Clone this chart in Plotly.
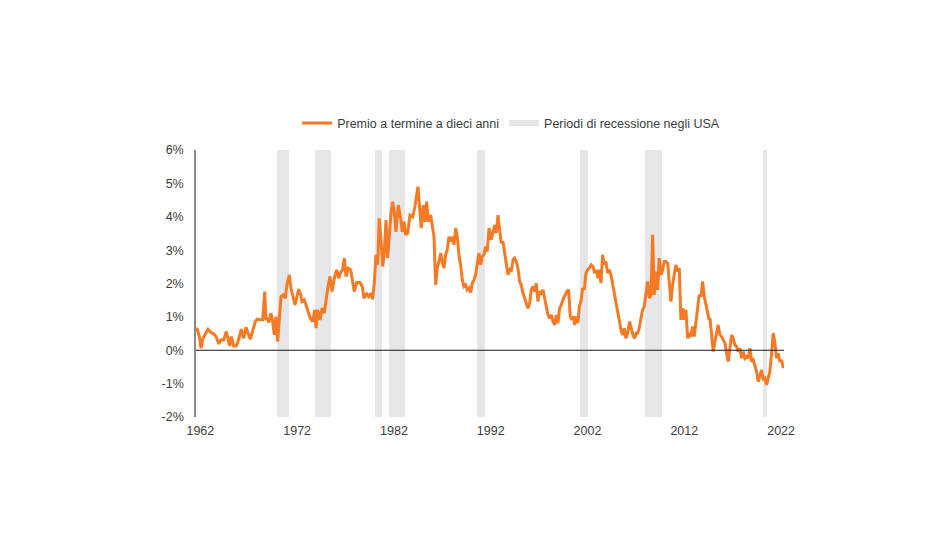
import plotly.graph_objects as go

# Ten-year term premium (%)
years = [
    1961.55, 1961.65, 1961.89, 1962.07, 1962.27, 1962.45, 1962.79, 1963.10, 1963.38, 1963.62,
    1963.90, 1964.10, 1964.41, 1964.68, 1964.86, 1965.03, 1965.20, 1965.44, 1965.71, 1965.96,
    1966.23, 1966.48, 1966.72, 1966.92, 1967.16, 1967.41, 1967.68, 1967.88, 1968.19, 1968.44,
    1968.65, 1968.78, 1968.99, 1969.06, 1969.30, 1969.47, 1969.64, 1969.81, 1969.99, 1970.15,
    1970.33, 1970.57, 1970.77, 1970.95, 1971.19, 1971.36, 1971.54, 1971.78, 1971.98, 1972.16,
    1972.37, 1972.50, 1972.74, 1972.99, 1973.19, 1973.36, 1973.61, 1973.81, 1973.95, 1974.12,
    1974.36, 1974.57, 1974.80, 1974.98, 1975.19, 1975.39, 1975.60, 1975.84, 1976.08, 1976.29,
    1976.53, 1976.70, 1976.87, 1977.05, 1977.28, 1977.53, 1977.74, 1977.90, 1978.15, 1978.49,
    1978.73, 1978.90, 1979.18, 1979.39, 1979.60, 1979.80, 1979.97, 1980.14, 1980.32, 1980.48,
    1980.66, 1980.84, 1981.00, 1981.18, 1981.35, 1981.52, 1981.69, 1981.87, 1982.03, 1982.21,
    1982.45, 1982.70, 1982.86, 1983.04, 1983.21, 1983.42, 1983.66, 1983.94, 1984.17, 1984.48,
    1984.66, 1984.82, 1985.03, 1985.21, 1985.38, 1985.55, 1985.79, 1985.96, 1986.14, 1986.31,
    1986.48, 1986.65, 1986.83, 1986.99, 1987.17, 1987.34, 1987.51, 1987.68, 1987.86, 1988.03,
    1988.20, 1988.38, 1988.54, 1988.72, 1988.89, 1989.06, 1989.23, 1989.41, 1989.58, 1989.75,
    1989.93, 1990.09, 1990.27, 1990.44, 1990.61, 1990.78, 1990.96, 1991.12, 1991.30, 1991.48,
    1991.64, 1991.82, 1992.05, 1992.23, 1992.41, 1992.57, 1992.75, 1992.92, 1993.09, 1993.26,
    1993.44, 1993.60, 1993.78, 1993.96, 1994.12, 1994.30, 1994.47, 1994.64, 1994.81, 1994.99,
    1995.15, 1995.33, 1995.50, 1995.67, 1995.85, 1996.02, 1996.19, 1996.36, 1996.54, 1996.70,
    1996.88, 1997.05, 1997.22, 1997.40, 1997.57, 1997.74, 1997.91, 1998.09, 1998.25, 1998.43,
    1998.60, 1998.77, 1998.94, 1999.12, 1999.29, 1999.53, 1999.70, 1999.87, 2000.05, 2000.22,
    2000.39, 2000.57, 2000.67, 2000.84, 2001.01, 2001.15, 2001.32, 2001.50, 2001.66, 2001.84,
    2002.01, 2002.18, 2002.38, 2002.56, 2002.74, 2002.90, 2003.08, 2003.21, 2003.39, 2003.56,
    2003.73, 2003.90, 2004.08, 2004.24, 2004.42, 2004.59, 2004.76, 2004.94, 2005.11, 2005.28,
    2005.45, 2005.63, 2005.79, 2005.97, 2006.14, 2006.35, 2006.52, 2006.69, 2006.87, 2007.03,
    2007.18, 2007.34, 2007.52, 2007.69, 2007.86, 2008.04, 2008.21, 2008.38, 2008.55, 2008.73,
    2008.89, 2009.07, 2009.24, 2009.41, 2009.58, 2009.76, 2009.93, 2010.10, 2010.28, 2010.44,
    2010.62, 2010.79, 2010.96, 2011.13, 2011.31, 2011.48, 2011.65, 2011.83, 2011.99, 2012.17,
    2012.34, 2012.51, 2012.68, 2012.86, 2013.02, 2013.20, 2013.38, 2013.54, 2013.72, 2013.89,
    2014.06, 2014.23, 2014.41, 2014.57, 2014.65, 2014.82, 2014.99, 2015.16, 2015.34, 2015.50,
    2015.68, 2015.85, 2016.02, 2016.20, 2016.37, 2016.54, 2016.71, 2016.89, 2017.05, 2017.23,
    2017.40, 2017.57, 2017.75, 2017.92, 2018.09, 2018.26, 2018.44, 2018.60, 2018.78, 2018.95,
    2019.12, 2019.29, 2019.47, 2019.64, 2019.81, 2019.99, 2020.15, 2020.33, 2020.50, 2020.67,
    2020.84, 2021.02, 2021.19, 2021.36, 2021.54, 2021.70, 2021.88, 2022.05, 2022.22,
]
term_premium = [
    0.60, 0.66, 0.41, 0.06, 0.36, 0.46, 0.63, 0.53, 0.49, 0.41,
    0.19, 0.31, 0.31, 0.56, 0.31, 0.13, 0.41, 0.13, 0.13, 0.33,
    0.63, 0.36, 0.69, 0.51, 0.33, 0.59, 0.86, 0.93, 0.93, 0.91,
    1.76, 0.91, 0.96, 0.83, 1.11, 0.86, 0.46, 1.01, 0.26, 1.06,
    1.61, 1.66, 1.56, 1.96, 2.26, 1.86, 1.66, 1.36, 1.61, 1.83,
    1.66, 1.46, 1.51, 1.31, 1.11, 0.96, 0.86, 1.21, 0.66, 1.21,
    0.91, 1.26, 1.11, 1.51, 1.91, 2.21, 1.76, 2.16, 2.41, 2.16,
    2.36, 2.41, 2.76, 2.21, 2.46, 2.41, 2.01, 1.76, 2.03, 2.03,
    1.91, 1.56, 1.69, 1.61, 1.71, 1.53, 2.01, 2.86, 2.56, 3.95,
    3.31, 2.51, 2.91, 3.90, 2.76, 3.51, 4.10, 4.45, 4.15, 3.55,
    4.35, 3.95, 3.55, 3.85, 3.46, 3.51, 4.05, 4.00, 4.30, 4.90,
    4.30, 3.66, 4.35, 3.85, 4.45, 3.85, 4.05, 3.66, 3.40, 1.96,
    2.46, 2.66, 2.91, 2.66, 2.46, 2.86, 3.01, 3.40, 3.26, 3.40,
    3.16, 3.66, 3.40, 2.86, 2.56, 2.11, 1.91, 1.96, 1.81, 1.86,
    1.73, 2.01, 2.11, 2.26, 2.61, 2.91, 2.56, 2.81, 2.86, 3.11,
    2.96, 3.66, 3.31, 3.55, 3.75, 3.51, 4.05, 3.60, 3.21, 3.26,
    2.86, 2.56, 2.26, 2.41, 2.36, 2.71, 2.76, 2.66, 2.46, 2.06,
    1.96, 1.71, 1.56, 1.41, 1.26, 1.41, 1.81, 1.91, 1.76, 2.01,
    1.46, 1.76, 1.71, 1.81, 1.56, 1.36, 1.06, 0.96, 1.06, 0.86,
    0.76, 1.06, 0.81, 1.26, 1.36, 1.56, 1.66, 1.76, 1.81, 1.01,
    0.91, 1.01, 0.76, 1.01, 0.81, 1.31, 1.46, 1.86, 1.81, 2.31,
    2.41, 2.46, 2.56, 2.51, 2.31, 2.41, 2.16, 2.41, 2.01, 2.86,
    2.56, 2.66, 2.31, 2.41, 2.26, 1.96, 1.66, 1.41, 1.16, 0.91,
    0.61, 0.46, 0.66, 0.36, 0.51, 0.86, 0.66, 0.46, 0.36, 0.51,
    0.51, 0.66, 0.96, 1.21, 1.31, 1.76, 2.06, 1.56, 1.66, 3.46,
    1.66, 2.36, 1.81, 2.76, 2.26, 2.41, 2.66, 2.66, 2.61, 2.06,
    1.46, 1.96, 2.26, 2.56, 2.36, 2.46, 0.91, 1.26, 0.91, 1.21,
    0.36, 0.46, 0.41, 0.71, 0.41, 0.91, 1.26, 1.66, 1.61, 2.06,
    1.61, 1.36, 1.11, 0.91, 0.96, 0.51, -0.04, 0.26, 0.51, 0.76,
    0.46, 0.41, 0.31, 0.21, -0.09, -0.34, 0.06, 0.46, 0.36, 0.16,
    0.11, -0.04, 0.06, -0.24, -0.04, -0.24, -0.19, -0.24, 0.06, -0.34,
    -0.29, -0.49, -0.64, -0.94, -0.74, -0.59, -0.89, -0.84, -1.04, -0.84,
    -0.64, -0.09, 0.51, 0.21, -0.24, -0.09, -0.34, -0.29, -0.54,
]

# US recession periods (start, end), in years
recession_start = [1969.92, 1973.84, 1980.04, 1981.49, 1990.58, 2001.22, 2007.93, 2020.12]
recession_end = [1971.16, 1975.50, 1980.76, 1983.14, 1991.40, 2002.04, 2009.69, 2020.53]

x_ticks = [1962, 1972, 1982, 1992, 2002, 2012, 2022]
y_ticks = [-2, -1, 0, 1, 2, 3, 4, 5, 6]

series_name = "Premio a termine a dieci anni"
recession_name = "Periodi di recessione negli USA"

ORANGE = "#F57A23"
GREY_BAND = "#E6E6E8"
TEXT = "#3C3C3C"
FONT = "Liberation Sans, Arial, sans-serif"

fig = go.Figure()

fig.add_trace(go.Scatter(
    x=years, y=term_premium, mode="lines", name=series_name,
    line=dict(color=ORANGE, width=3), hoverinfo="skip",
))
# legend entry for recession bands
fig.add_trace(go.Scatter(
    x=[None], y=[None], mode="lines", name=recession_name,
    line=dict(color=GREY_BAND, width=6),
))

for s, e in zip(recession_start, recession_end):
    fig.add_vrect(x0=s, x1=e, fillcolor=GREY_BAND, opacity=1, line_width=0, layer="below")

fig.add_hline(y=0, line=dict(color="#1a1a1a", width=1), layer="above")

fig.update_layout(
    width=946, height=548,
    margin=dict(l=188, r=170, t=142, b=139),
    paper_bgcolor="white", plot_bgcolor="white",
    font=dict(family=FONT, size=12.5, color=TEXT),
    showlegend=True,
    legend=dict(
        orientation="h", x=0.536, xanchor="center", y=1.10, yanchor="middle",
        font=dict(size=12.5, color=TEXT), itemwidth=30, tracegroupgap=0,
        bgcolor="rgba(0,0,0,0)",
    ),
    xaxis=dict(
        range=[1961.55, 2022.3], tickvals=x_ticks, ticktext=[str(v) for v in x_ticks],
        showgrid=False, zeroline=False, showline=False, ticks="",
        ticklabelstandoff=4,
    ),
    yaxis=dict(
        range=[-2, 6], tickvals=y_ticks, ticktext=[f"{v}%" for v in y_ticks],
        showgrid=False, zeroline=False, showline=True, linecolor="#8a8a8e", linewidth=1.5,
        ticks="", ticklabelstandoff=8,
    ),
)

fig.write_html("out.html")
